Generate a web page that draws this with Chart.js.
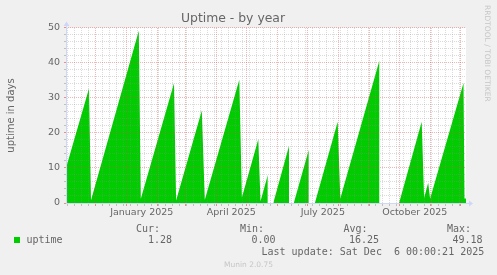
<!DOCTYPE html>
<html><head><meta charset="utf-8">
<script src="https://cdn.jsdelivr.net/npm/chart.js@4/dist/chart.umd.min.js"></script>
<style>
html,body{margin:0;padding:0;background:#f0f0f0;}
#wrap{position:relative;width:497px;height:275px;overflow:hidden;background:#f0f0f0;}
canvas{position:absolute;left:0;top:0;}
.m{position:absolute;white-space:pre;font-family:"DejaVu Sans Mono",monospace;font-size:10px;line-height:12px;color:#666;}
.r{text-align:right;width:80px;}
#wm{position:absolute;left:483px;top:5px;writing-mode:vertical-rl;font-family:"DejaVu Sans",sans-serif;font-size:7.5px;line-height:9px;color:#c6c6c6;white-space:nowrap;}
#munin{position:absolute;left:0;width:497px;top:259.5px;text-align:center;font-family:"DejaVu Sans",sans-serif;font-size:7.5px;line-height:9px;color:#c6c6c6;}
#sw{position:absolute;left:14px;top:237px;width:6px;height:6px;background:#00cc00;}
</style></head>
<body><div id="wrap"><canvas id="c" width="497" height="275"></canvas>
<div id="legend"></div>
<div id="wm"></div>
<div id="munin"></div>
</div>
<script>
// ---------- data ----------
const startDate = '2024-11-01';
// x = days since startDate, y = uptime in days (null = no data)
const uptimeDays   = [0.7, 23.7, 25.7, 73.5, 75.5, 108.7, 110.8, 136.5, 139.5, 174.0, 176.6, 193.0, 195.2, 202.5, 205.0, 208.0, 223.7, 226.0, 228.5, 243.5, 246.0, 249.6, 272.4, 275.0, 314.2, 324.0, 333.8, 356.4, 358.8, 362.9, 364.8, 398.2, 399.2, 400.7];
const uptimeValues = [10.0, 32.7, 0.8, 49.18, 1.2, 34.2, 0.7, 26.4, 0.9, 35.2, 1.6, 18.2, 0.5, 8.0, null, 0.0, 16.3, null, 0.0, 15.2, null, 0.0, 23.2, 1.3, 40.8, null, 0.0, 23.2, 1.4, 5.8, 1.2, 34.3, 1.28, 1.28];
const monthStarts = ['2024-12-01','2025-01-01','2025-02-01','2025-03-01','2025-04-01','2025-05-01','2025-06-01','2025-07-01','2025-08-01','2025-09-01','2025-10-01','2025-11-01','2025-12-01'];
const labelMonths = [['2025-01-01','2025-02-01'],['2025-04-01','2025-05-01'],['2025-07-01','2025-08-01'],['2025-10-01','2025-11-01']];
const tickLabels = ['January 2025','April 2025','July 2025','October 2025'];
const seriesName = 'uptime';
const statHeaders = ['Cur:','Min:','Avg:','Max:'];
const statValues = ['1.28','0.00','16.25','49.18'];
const chartTitle = 'Uptime - by year';
const yTitle = 'uptime in days';
const lastUpdate = 'Last update: Sat Dec  6 00:00:21 2025';
const watermark = 'RRDTOOL / TOBI OETIKER';
const footer = 'Munin 2.0.75';

// ---------- helpers ----------
const DAY = 86400000;
const [sy, sm, sd] = startDate.split('-').map(Number);
const t0 = Date.UTC(sy, sm - 1, sd);
const dayOf = s => { const [y, m, d] = s.split('-').map(Number); return (Date.UTC(y, m - 1, d) - t0) / DAY; };
const X_MIN = 0.7, X_MAX = 400.7;
const monthDays = monthStarts.map(dayOf);
const firstSunday = (7 - new Date(t0).getUTCDay()) % 7;
const xGridTicks = [];
for (let d = firstSunday; d <= X_MAX; d += 7) if (!monthDays.includes(d)) xGridTicks.push({value: d, kind: 'week'});
monthDays.forEach(d => { if (d > X_MIN && d < X_MAX) xGridTicks.push({value: d, kind: 'month'}); });
xGridTicks.sort((a, b) => a.value - b.value);
const labelDays = labelMonths.map(([a, b]) => (dayOf(a) + dayOf(b)) / 2);

const MAJOR = 'rgba(222,79,79,0.42)';
const MINOR = 'rgba(143,143,143,0.33)';
const MAJOR_TICK = 'rgba(222,79,79,0.6)';
const MINOR_TICK = 'rgba(143,143,143,0.5)';
const AXIS = '#cfd6f8';
const FONT_COLOR = '#666';

const points = uptimeDays.map((x, i) => ({x, y: uptimeValues[i]}));

const bgPlugin = {
  id: 'bg',
  beforeDraw(chart) {
    const {ctx, chartArea: a} = chart;
    ctx.save(); ctx.fillStyle = '#ffffff';
    ctx.fillRect(a.left, a.top, a.right - a.left, a.bottom - a.top);
    ctx.restore();
  }
};
const axisPlugin = {
  id: 'axes',
  afterDraw(chart) {
    const {ctx, chartArea: a} = chart;
    ctx.save();
    ctx.strokeStyle = AXIS; ctx.fillStyle = AXIS; ctx.lineWidth = 1;
    const x0 = Math.round(a.left) + 0.5, y0 = Math.round(a.bottom) + 0.5;
    ctx.beginPath();
    ctx.moveTo(a.left, y0); ctx.lineTo(a.right + 3, y0);
    ctx.moveTo(x0, a.bottom); ctx.lineTo(x0, a.top - 3);
    ctx.stroke();
    ctx.beginPath();
    ctx.moveTo(a.right + 3, y0 - 3); ctx.lineTo(a.right + 7, y0); ctx.lineTo(a.right + 3, y0 + 3); ctx.closePath();
    ctx.moveTo(x0 - 3, a.top - 2); ctx.lineTo(x0, a.top - 6.5); ctx.lineTo(x0 + 3, a.top - 2); ctx.closePath();
    ctx.fill();
    ctx.restore();
  }
};

const tickFont = {family: 'DejaVu Sans', size: 9.5};

new Chart(document.getElementById('c'), {
  type: 'line',
  data: {
    datasets: [{
      label: seriesName,
      data: points,
      fill: 'origin',
      backgroundColor: '#00cc00',
      borderColor: '#00cc00',
      borderWidth: 0,
      pointRadius: 0,
      tension: 0,
      spanGaps: false
    }]
  },
  options: {
    responsive: false,
    animation: false,
    devicePixelRatio: 1,
    layout: {padding: {left: 0, right: 31, top: 0, bottom: 52}},
    plugins: {
      legend: {display: false},
      tooltip: {enabled: false},
      title: {display: true, text: chartTitle, color: FONT_COLOR,
        font: {family: 'DejaVu Sans', size: 12.4, weight: 'normal'},
        padding: {top: 11.5, bottom: 1.6}}
    },
    scales: {
      x: {
        type: 'linear', position: 'bottom', weight: 0, min: X_MIN, max: X_MAX,
        afterBuildTicks: s => { s.ticks = xGridTicks.map(t => ({...t})); },
        afterFit: s => { s.height = 3; },
        ticks: {display: false},
        grid: {z: 1, lineWidth: 1, drawTicks: true, tickLength: 3,
          color: c => (c.tick && c.tick.kind === 'month') ? MAJOR : MINOR,
          tickColor: c => (c.tick && c.tick.kind === 'month') ? MAJOR_TICK : MINOR_TICK},
        border: {display: false, dash: [1, 1]}
      },
      x2: {
        type: 'linear', position: 'bottom', weight: 1, min: X_MIN, max: X_MAX,
        afterBuildTicks: s => { s.ticks = labelDays.map(v => ({value: v})); },
        afterFit: s => { s.height = 17; },
        ticks: {autoSkip: false, maxRotation: 0, minRotation: 0, padding: 1,
          callback: (v, i) => tickLabels[i], font: tickFont, color: FONT_COLOR},
        grid: {display: false, drawTicks: false},
        border: {display: false}
      },
      y: {
        min: 0, max: 50,
        afterFit: s => { s.width = 66; },
        ticks: {stepSize: 2, autoSkip: false, padding: 4, font: tickFont, color: FONT_COLOR,
          callback: v => (v % 10 === 0 ? String(v) : '')},
        grid: {z: 1, lineWidth: 1, tickLength: 2,
          color: c => (c.tick && c.tick.value % 10 === 0) ? MAJOR : MINOR,
          tickColor: c => (c.tick && c.tick.value % 10 === 0) ? MAJOR_TICK : MINOR_TICK},
        border: {display: false, dash: [1, 1]},
        title: {display: true, text: yTitle, color: FONT_COLOR,
          font: {family: 'DejaVu Sans', size: 10}, padding: {top: 5, bottom: 0}}
      }
    }
  },
  plugins: [bgPlugin, axisPlugin]
});

// ---------- legend (real text) ----------
const lg = document.getElementById('legend');
const add = (cls, text, left, top) => {
  const d = document.createElement('div');
  d.className = cls; d.textContent = text;
  d.style.left = left + 'px'; d.style.top = top + 'px';
  lg.appendChild(d);
};
const headerRight = [160, 264, 367.5, 471];
const valueRight = [172, 275.5, 379, 482.5];
statHeaders.forEach((h, i) => add('m r', h, headerRight[i] - 80, 222.5));
statValues.forEach((v, i) => add('m r', v, valueRight[i] - 80, 234));
const sw = document.createElement('div'); sw.id = 'sw'; lg.appendChild(sw);
add('m', seriesName, 26.5, 234);
add('m', lastUpdate, 261.5, 246);
document.getElementById('wm').textContent = watermark;
document.getElementById('munin').textContent = footer;
</script>
</body></html>
